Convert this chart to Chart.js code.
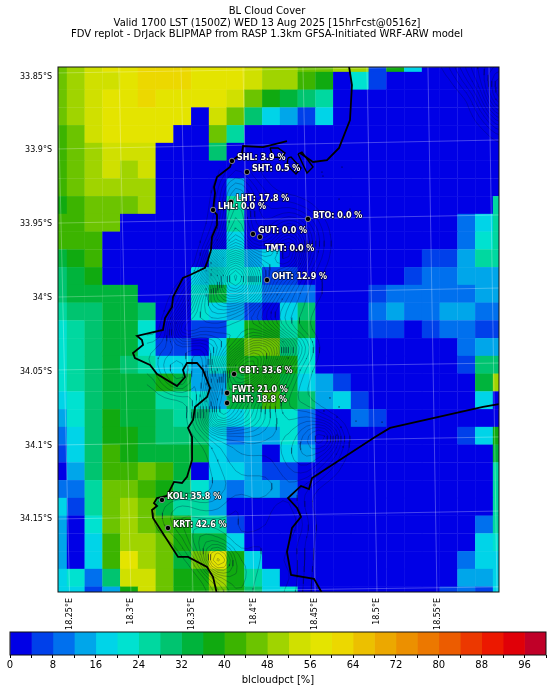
<!DOCTYPE html>
<html>
<head>
<meta charset="utf-8">
<title>BL Cloud Cover</title>
<script src="https://cdn.jsdelivr.net/npm/chart.js@4/dist/chart.umd.min.js"></script>
<style>
    html, body { margin: 0; padding: 0; background: #fff; overflow: hidden; }
    canvas { position: absolute; left: 0; }
    #map-chart { top: 0; }
    #colorbar-chart { top: 625px; }
</style>
</head>
<body>
<canvas id="map-chart" width="553" height="640"></canvas>
<canvas id="colorbar-chart" width="553" height="67"></canvas>
<script>
const titleLines = [
    'BL Cloud Cover',
    'Valid 1700 LST (1500Z) WED 13 Aug 2025 [15hrFcst@0516z]',
    'FDV replot - DrJack BLIPMAP from RASP 1.3km GFSA-Initiated WRF-ARW model'
];
const lonTicks = [18.25, 18.3, 18.35, 18.4, 18.45, 18.5, 18.55];
const latTicks = [33.85, 33.9, 33.95, 34, 34.05, 34.1, 34.15];
const colorbarTicks = [0, 4, 8, 12, 16, 20, 24, 28, 32, 36, 40, 44, 48, 52, 56, 60, 64, 68, 72, 76, 80, 84, 88, 92, 96, 100];
const binColors = [
    '#0000e6', '#0040ea', '#0070ee', '#00a6ea', '#00d4e8', '#00e2d0', '#00d8a0', '#00c470', '#00b43c',
    '#10aa10', '#3cb400', '#6cc400', '#a0d400', '#d0e000', '#e4e400', '#ecd800', '#ecc000', '#eca800',
    '#ec9000', '#ec7800', '#ec5c00', '#ec3800', '#ec1800', '#e00008', '#c00028'
];

// Model grid: cell centres, degrees
const gridLon0 = 18.24074, gridDLon = 0.014454;
const gridLat0 = 33.84094, gridDLat = 0.012026;

// blcloudpct per cell, north to south
const cloudRows = [
    [46,50,54,58,58,62,62,62,58,58,58,54,50,50,46,46,50,50,6,38,18,0,0,0,0,0],
    [46,50,54,54,58,62,62,62,58,58,58,54,50,50,42,38,0,22,6,0,0,0,0,0,0,0],
    [46,50,54,58,58,62,58,58,58,58,54,46,38,34,30,26,0,0,0,0,0,0,0,0,0,0],
    [46,50,54,58,58,58,58,58,0,54,46,30,18,14,6,18,0,0,0,0,0,0,0,0,0,0],
    [42,46,54,58,58,58,58,0,0,46,26,0,0,0,0,0,0,0,0,0,0,0,0,0,0,0],
    [42,46,50,54,54,54,0,0,0,30,0,0,0,0,0,0,0,0,0,0,0,0,0,0,0,0],
    [42,46,50,54,50,54,0,0,0,0,0,0,0,0,0,0,0,0,0,0,0,0,0,0,0,0],
    [42,46,50,50,50,50,0,0,0,0,14,0,0,0,0,0,0,0,0,0,0,0,0,0,0,0],
    [38,42,46,46,46,50,0,0,0,0,26,0,0,0,0,0,0,0,0,0,0,0,0,0,0,26],
    [42,42,46,46,0,0,0,0,0,0,26,0,0,0,0,0,0,0,0,0,0,0,0,10,18,26],
    [42,42,42,0,0,0,0,0,0,0,18,0,0,0,0,0,0,0,0,0,0,0,0,10,22,26],
    [34,38,42,0,0,0,0,0,0,18,22,14,18,0,0,0,0,0,0,0,0,6,6,14,26,26],
    [30,34,38,0,0,0,0,0,18,22,22,22,6,6,0,0,0,0,0,0,6,10,10,14,14,14],
    [30,34,34,34,34,0,0,0,22,34,18,18,10,10,10,0,0,0,6,10,10,10,10,10,14,14],
    [26,30,30,34,34,30,0,0,22,18,14,6,0,18,30,0,0,0,10,14,10,10,14,14,10,10],
    [22,26,30,34,34,22,0,0,6,6,22,38,38,26,34,0,0,0,6,6,0,6,10,10,6,6],
    [22,26,30,34,34,22,6,6,0,18,38,46,46,30,22,0,0,0,0,0,0,0,0,10,14,14],
    [22,26,30,34,30,26,18,18,14,22,38,38,38,38,22,0,0,0,0,0,0,0,0,6,30,30],
    [22,26,30,34,34,34,38,34,14,14,34,38,38,34,18,14,6,0,0,0,0,0,0,0,34,50],
    [18,22,30,34,34,34,26,26,22,14,34,34,42,34,30,14,18,6,0,0,0,0,0,0,18,0],
    [14,22,30,38,34,34,30,26,30,22,18,22,22,22,10,0,0,10,6,0,0,0,0,0,0,0],
    [10,18,30,38,38,34,30,30,30,18,10,14,14,22,10,0,0,0,0,0,0,0,0,6,18,38],
    [6,18,30,42,38,34,34,34,34,18,14,14,0,18,14,0,0,0,0,0,0,0,0,0,0,34],
    [0,14,30,42,42,46,42,34,0,18,18,14,6,6,0,0,0,0,0,0,0,0,0,0,0,26],
    [10,10,26,46,46,42,38,30,22,14,10,14,14,10,0,0,0,0,0,0,0,0,0,0,0,26],
    [18,6,26,46,50,46,34,26,26,14,0,0,0,0,0,0,0,0,0,0,0,0,0,0,0,26],
    [14,0,22,46,50,46,42,38,26,26,6,0,0,0,0,0,0,0,0,0,0,0,0,0,10,26],
    [14,0,18,42,50,50,46,38,34,34,18,0,0,0,0,0,0,0,0,0,0,0,0,0,18,22],
    [14,0,18,42,58,50,46,34,46,58,38,18,0,0,0,0,0,0,0,0,0,0,0,10,18,18],
    [18,22,10,30,54,54,46,38,38,50,38,26,18,0,0,0,0,0,0,0,0,0,0,14,14,18],
    [18,18,6,14,38,54,46,38,38,46,38,30,18,22,0,0,0,0,0,0,0,0,6,10,6,18]
];

// Terrain height in metres, nodes at the cell centres (main patch starts col 5, row 6)
const terrainMain = [
    [0,0,0,0,0,60,20,0,0,0,0,0,0],
    [0,0,0,0,30,200,80,20,0,0,0,0,0],
    [0,0,0,0,40,250,120,60,60,30,0,0,0],
    [0,0,0,0,60,300,100,90,180,120,20,0,0],
    [0,0,0,0,120,350,150,200,400,180,40,0,0],
    [0,0,0,0,350,550,350,300,450,130,30,0,0],
    [0,0,0,60,500,800,500,300,200,60,10,0,0],
    [0,0,60,300,500,600,450,250,120,40,30,0,0],
    [0,0,150,350,400,350,250,150,80,40,0,0,0],
    [0,0,450,300,300,250,300,200,60,20,0,0,0],
    [60,100,100,100,200,300,500,500,300,100,0,0,0],
    [50,150,200,0,300,600,700,400,150,40,0,0,0],
    [0,100,200,0,350,550,450,250,100,20,0,0,0],
    [0,0,0,50,450,400,250,120,60,20,0,0,0],
    [0,0,0,100,500,350,250,150,80,120,40,0,0],
    [0,0,0,30,100,120,150,120,120,200,350,40,0],
    [0,0,0,0,60,100,100,100,150,200,150,30,0],
    [0,0,0,0,40,80,80,80,120,150,60,10,0],
    [0,0,0,0,30,60,60,60,100,40,0,0,0],
    [0,60,100,60,60,120,80,100,120,30,0,0,0],
    [0,60,120,120,120,100,80,100,150,60,0,0,0],
    [0,0,50,200,150,100,120,140,100,40,0,0,0],
    [0,0,0,80,500,130,160,80,110,40,0,0,0],
    [0,0,0,0,100,200,120,100,120,30,0,0,0],
    [0,0,0,0,50,150,120,100,100,30,0,0,0]
];
// North-east corner patch starts col 21, row 0
const terrainNorthEast = [
    [0,60,150,200,200],
    [0,0,100,200,350],
    [0,0,0,150,350],
    [0,0,0,60,200],
    [0,0,0,0,60],
    [0,0,0,0,0]
];
const contourLevels = [25,50,75,100,125,150,175,200,225,250,275,300,325,350,375,400,425,450,475,500,525,550,575,600,625,650,675,700,725,750,775];

// Coastlines, [lon, lat]
const coastTop = [[18.4776,33.843],[18.48,33.8558],[18.4784,33.8795],[18.4695,33.8984],[18.4597,33.9066],[18.4483,33.9079],[18.4377,33.9018]];
const coastWest = [
    [18.4271,33.8937],[18.4076,33.8978],[18.3913,33.8971],[18.3905,33.9018],[18.3823,33.9072],[18.3807,33.9113],
    [18.3701,33.9181],[18.3677,33.9249],[18.3685,33.9289],[18.3669,33.9404],[18.3701,33.9438],[18.3701,33.9506],
    [18.366,33.9587],[18.3652,33.9675],[18.3628,33.9743],[18.3603,33.9797],[18.3481,33.9845],[18.3424,33.9865],
    [18.3343,33.9994],[18.3335,34.0062],[18.3278,34.0136],[18.3261,34.0217],[18.305,34.0258],[18.309,34.0285],
    [18.3099,34.0319],[18.3017,34.0373],[18.3033,34.0407],[18.3156,34.0455],[18.3213,34.0516],[18.3375,34.0597],
    [18.3441,34.0536],[18.3424,34.0488],[18.3457,34.0441],[18.3538,34.0441],[18.3587,34.0488],[18.3644,34.061],
    [18.362,34.0671],[18.3522,34.0739],[18.3506,34.0827],[18.3465,34.0881],[18.3498,34.0942],[18.3498,34.1098],
    [18.3457,34.1213],[18.3416,34.1254],[18.3351,34.1247],[18.3294,34.1342],[18.3213,34.1356],[18.3188,34.139],
    [18.3213,34.141],[18.3172,34.1437],[18.318,34.1491],[18.3384,34.1755],[18.3465,34.1755],[18.362,34.1823],
    [18.3669,34.1891],[18.3701,34.2006]
];
const coastEast = [
    [18.5997,34.0719],[18.5867,34.0739],[18.511,34.0881],[18.4988,34.0942],[18.4475,34.122],[18.445,34.1295],
    [18.4385,34.1274],[18.4279,34.1356],[18.4353,34.1423],[18.4385,34.1484],[18.4312,34.1559],[18.4271,34.1722],
    [18.4304,34.1877],[18.4491,34.1904],[18.4556,34.1999]
];
const harbourOuter = [[18.4361,33.9025],[18.4393,33.9012],[18.4483,33.9113],[18.4434,33.9154],[18.4361,33.9025]];
const harbourInner = [[18.4279,33.9052],[18.4304,33.9045],[18.4385,33.912],[18.4344,33.9161],[18.4271,33.91],[18.4279,33.9052]];
const harbourBasin = [[18.4133,33.8984],[18.4198,33.8984],[18.4255,33.9018],[18.423,33.9052],[18.4157,33.9045],[18.4133,33.8984]];
const rocks = [
    [18.4621,34.0678],[18.4695,34.0739],[18.4572,34.0766],[18.4678,34.0807],[18.4833,34.0834],[18.4711,34.0875],
    [18.4678,34.0929],[18.4727,34.101],[18.5045,34.0841],[18.4556,33.9147],[18.4719,33.9113],[18.4564,33.9174],
    [18.4695,33.933],[18.4784,33.9398]
];

// Tilted graticule, [lonStart, latStart, lonEnd, latEnd]
const graticule = [
    [18.2402,33.8436,18.25,34.1993],[18.2902,33.8436,18.3,34.1993],[18.3408,33.8436,18.3505,34.1993],
    [18.3913,33.8436,18.4003,34.1993],[18.4401,33.8436,18.4499,34.1993],[18.4922,33.8436,18.5004,34.1993],
    [18.5419,33.8436,18.5492,34.1993],[18.5916,33.8436,18.5981,34.1993],
    [18.2406,33.8476,18.5997,33.8429],[18.2406,33.8991,18.5997,33.893],[18.2406,33.9493,18.5997,33.9438],
    [18.2406,33.9994,18.5997,33.9933],[18.2406,34.0488,18.5997,34.0441],[18.2406,34.0997,18.5997,34.0942],
    [18.2406,34.1498,18.5997,34.1444],[18.2406,34.1999,18.5997,34.1958]
];

// Stations
const stationNames = ['SHL', 'SHT', 'LHT', 'LHL', 'BTO', 'GUT', 'TMT', 'OHT', 'CBT', 'FWT', 'NHT', 'KOL', 'KRT'];
const stationValues = [3.9, 0.5, 17.8, 0.0, 0.0, 0.0, 0.0, 12.9, 33.6, 21.0, 18.8, 35.8, 42.6];
const stationLons = [18.3823, 18.3945, 18.3815, 18.3669, 18.4442, 18.3994, 18.4051, 18.4108, 18.384, 18.3783, 18.3783, 18.3253, 18.3302];
const stationLats = [33.9072, 33.9147, 33.935, 33.9404, 33.9465, 33.9567, 33.9587, 33.9879, 34.0516, 34.0644, 34.0712, 34.1369, 34.1559];

const GAP = { x: NaN, y: NaN };
const TERRAIN_SUBDIV = 3;

function binColor(value) {
    return binColors[Math.min(Math.floor(value / 4), binColors.length - 1)];
}

function toPoints(list) {
    return list.map(p => ({ x: p[0], y: p[1] }));
}

// Resample the coarse terrain finer and blur it, so contours come out rounded
function smoothTerrain(heights) {
    const rows = (heights.length - 1) * TERRAIN_SUBDIV + 1;
    const cols = (heights[0].length - 1) * TERRAIN_SUBDIV + 1;
    let fine = [];
    for (let r = 0; r < rows; r++) {
        const row = [];
        const r0 = Math.min(Math.floor(r / TERRAIN_SUBDIV), heights.length - 2);
        const fr = r / TERRAIN_SUBDIV - r0;
        for (let c = 0; c < cols; c++) {
            const c0 = Math.min(Math.floor(c / TERRAIN_SUBDIV), heights[0].length - 2);
            const fc = c / TERRAIN_SUBDIV - c0;
            row.push((heights[r0][c0] * (1 - fc) + heights[r0][c0 + 1] * fc) * (1 - fr) +
                (heights[r0 + 1][c0] * (1 - fc) + heights[r0 + 1][c0 + 1] * fc) * fr);
        }
        fine.push(row);
    }
    for (let pass = 0; pass < 2; pass++) {
        fine = fine.map((row, r) => row.map((h, c) => {
            let sum = 0, n = 0;
            for (let i = -1; i <= 1; i++) {
                for (let j = -1; j <= 1; j++) {
                    if (fine[r + i] && fine[r + i][c + j] !== undefined) {
                        sum += fine[r + i][c + j];
                        n++;
                    }
                }
            }
            return sum / n;
        }));
    }
    return fine;
}

// Walk the terrain cells and collect the contour crossings as short segments
function contourPoints(coarse, firstCol, firstRow) {
    const heights = smoothTerrain(coarse);
    const points = [];
    const nodeLon = (col) => gridLon0 + (firstCol + col / TERRAIN_SUBDIV) * gridDLon;
    const nodeLat = (row) => gridLat0 + (firstRow + row / TERRAIN_SUBDIV) * gridDLat;

    contourLevels.forEach(level => {
        for (let row = 0; row < heights.length - 1; row++) {
            for (let col = 0; col < heights[row].length - 1; col++) {
                const corners = [[col, row], [col + 1, row], [col + 1, row + 1], [col, row + 1]];
                const crossings = [];
                corners.forEach((a, i) => {
                    const b = corners[(i + 1) % 4];
                    const ha = heights[a[1]][a[0]];
                    const hb = heights[b[1]][b[0]];
                    if ((ha < level) !== (hb < level)) {
                        const t = (level - ha) / (hb - ha);
                        crossings.push({
                            x: nodeLon(a[0] + (b[0] - a[0]) * t),
                            y: nodeLat(a[1] + (b[1] - a[1]) * t)
                        });
                    }
                });
                for (let i = 0; i + 1 < crossings.length; i += 2) {
                    points.push(crossings[i], crossings[i + 1], GAP);
                }
            }
        }
    });
    return points;
}

function lineDataset(points, color, width, order) {
    return {
        data: points,
        showLine: true,
        borderColor: color,
        borderWidth: width,
        pointRadius: 0,
        tension: 0,
        order: order
    };
}

// Grid cells as square points
const cells = [];
const cellColors = [];
cloudRows.forEach((row, r) => {
    row.forEach((value, c) => {
        cells.push({ x: gridLon0 + c * gridDLon, y: gridLat0 + r * gridDLat });
        cellColors.push(binColor(value));
    });
});

const graticulePoints = [];
graticule.forEach(g => {
    graticulePoints.push({ x: g[0], y: g[1] }, { x: g[2], y: g[3] }, GAP);
});

const coastPoints = [];
[coastTop, coastWest, coastEast].forEach(line => {
    coastPoints.push(...toPoints(line), GAP);
});
const harbourPoints = [];
[harbourOuter, harbourInner, harbourBasin].forEach(line => {
    harbourPoints.push(...toPoints(line), GAP);
});

const framePlugin = {
    id: 'frame',
    afterDatasetsDraw(chart) {
        const area = chart.chartArea;
        const ctx = chart.ctx;
        ctx.save();
        ctx.strokeStyle = '#111';
        ctx.lineWidth = 1;
        ctx.strokeRect(area.left, area.top, area.right - area.left, area.bottom - area.top);
        ctx.restore();
    }
};

const mapTextPlugin = {
    id: 'mapText',
    afterDraw(chart) {
        const ctx = chart.ctx;
        const x = chart.scales.x;
        const y = chart.scales.y;
        ctx.save();

        // Title sits left of the axes centre in the original
        ctx.fillStyle = '#000';
        ctx.font = '10px "DejaVu Sans"';
        ctx.textAlign = 'center';
        ctx.textBaseline = 'middle';
        titleLines.forEach((line, i) => ctx.fillText(line, 267, 11.5 + i * 11.5));

        // Station labels
        ctx.font = 'bold 8px "DejaVu Sans"';
        ctx.textAlign = 'left';
        ctx.lineJoin = 'round';
        stationNames.forEach((name, i) => {
            const text = name + ': ' + stationValues[i].toFixed(1) + ' %';
            const px = x.getPixelForValue(stationLons[i]) + 5;
            const py = y.getPixelForValue(stationLats[i]) + (name === 'TMT' ? 12 : -3);
            ctx.strokeStyle = 'rgba(0,0,0,0.75)';
            ctx.lineWidth = 1.5;
            ctx.strokeText(text, px, py);
            ctx.fillStyle = '#fff';
            ctx.fillText(text, px, py);
        });
        ctx.restore();
    }
};

new Chart(document.getElementById('map-chart'), {
    type: 'scatter',
    data: {
        datasets: [
            {
                data: cells,
                pointStyle: 'rect',
                pointRadius: 12.8,
                pointBackgroundColor: cellColors,
                pointBorderColor: 'transparent',
                pointBorderWidth: 0,
                clip: 0,
                order: 6
            },
            lineDataset(contourPoints(terrainMain, 5, 6).concat(contourPoints(terrainNorthEast, 21, 0)), 'rgba(0,10,50,0.55)', 0.5, 5),
            lineDataset(graticulePoints, 'rgba(255,255,255,0.27)', 1, 4),
            {
                data: toPoints(rocks),
                pointRadius: 0.6,
                pointBackgroundColor: '#001',
                pointBorderColor: 'transparent',
                pointBorderWidth: 0,
                order: 3
            },
            lineDataset(coastPoints, '#000', 1.8, 2),
            lineDataset(harbourPoints, '#000', 1.4, 2),
            {
                data: stationLons.map((lon, i) => ({ x: lon, y: stationLats[i] })),
                pointRadius: 2.7,
                pointBackgroundColor: '#000',
                pointBorderColor: 'rgba(190,190,190,0.8)',
                pointBorderWidth: 0.8,
                order: 1
            }
        ]
    },
    options: {
        responsive: false,
        animation: false,
        events: [],
        layout: { padding: { top: 67, right: 54, left: 0, bottom: 0 } },
        plugins: {
            legend: { display: false },
            tooltip: { enabled: false }
        },
        scales: {
            x: {
                type: 'linear',
                min: 18.24064,
                max: 18.59974,
                grid: { display: false, drawTicks: false },
                border: { display: false },
                afterBuildTicks: axis => { axis.ticks = lonTicks.map(value => ({ value })); },
                afterFit: axis => { axis.height = 48; },
                ticks: {
                    autoSkip: false,
                    minRotation: 90,
                    maxRotation: 90,
                    padding: 6,
                    color: '#000',
                    font: { family: '"DejaVu Sans"', size: 8 },
                    callback: value => value + '°E'
                }
            },
            y: {
                type: 'linear',
                reverse: true,
                min: 33.84356,
                max: 34.19926,
                grid: { display: false, drawTicks: false },
                border: { display: false },
                afterBuildTicks: axis => { axis.ticks = latTicks.map(value => ({ value })); },
                afterFit: axis => { axis.width = 58; },
                ticks: {
                    autoSkip: false,
                    padding: 6,
                    color: '#000',
                    font: { family: '"DejaVu Sans"', size: 8 },
                    callback: value => value + '°S'
                }
            }
        }
    },
    plugins: [framePlugin, mapTextPlugin]
});

// Colorbar: one stacked bar per 4 % bin
new Chart(document.getElementById('colorbar-chart'), {
    type: 'bar',
    data: {
        labels: ['blcloudpct'],
        datasets: binColors.map(color => ({
            data: [4],
            backgroundColor: color,
            barPercentage: 1,
            categoryPercentage: 1
        }))
    },
    options: {
        indexAxis: 'y',
        responsive: false,
        animation: false,
        events: [],
        layout: { padding: { top: 7, left: 10, right: 7, bottom: 6 } },
        plugins: {
            legend: { display: false },
            tooltip: { enabled: false }
        },
        scales: {
            x: {
                stacked: true,
                min: 0,
                max: 100,
                grid: { drawOnChartArea: false, tickLength: 3, tickColor: '#000' },
                border: { display: false },
                afterBuildTicks: axis => { axis.ticks = colorbarTicks.map(value => ({ value })); },
                afterFit: axis => { axis.height = 31; },
                title: {
                    display: true,
                    text: 'blcloudpct [%]',
                    color: '#000',
                    font: { family: '"DejaVu Sans"', size: 10 },
                    padding: { top: 1, bottom: 0 }
                },
                ticks: {
                    autoSkip: false,
                    maxRotation: 0,
                    color: '#000',
                    padding: 1,
                    font: { family: '"DejaVu Sans"', size: 10 },
                    callback: value => (value % 8 === 0 && value < 100 ? value : '')
                }
            },
            y: { stacked: true, display: false }
        }
    },
    plugins: [framePlugin]
});
</script>
</body>
</html>
